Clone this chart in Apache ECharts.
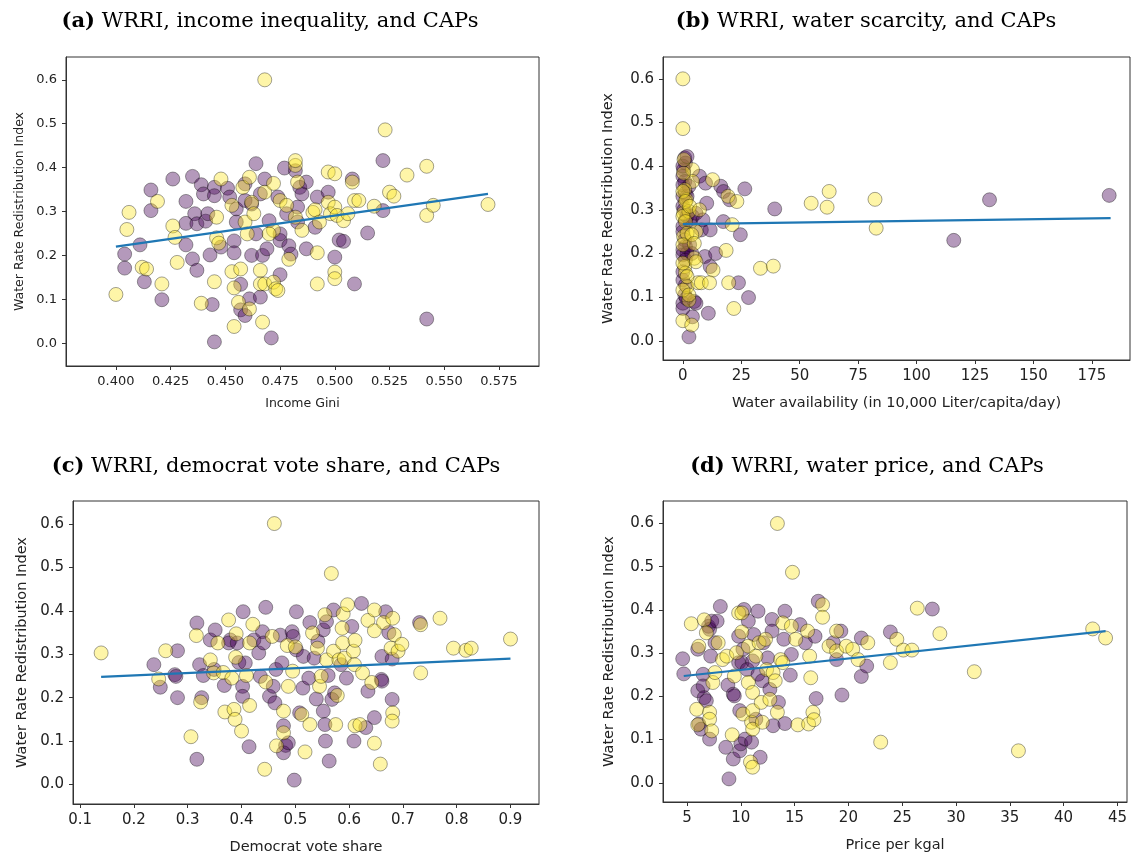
<!DOCTYPE html>
<html><head><meta charset="utf-8">
<script src="https://cdn.jsdelivr.net/npm/echarts@6/dist/echarts.min.js"></script>
<style>html,body{margin:0;padding:0;background:#fff}#c{width:1133px;height:859px}</style>
</head><body><div id="c"></div>
<script>
// ---------- tick labels ----------
var yTicks = [0.0, 0.1, 0.2, 0.3, 0.4, 0.5, 0.6];
var aXTicks = [0.400, 0.425, 0.450, 0.475, 0.500, 0.525, 0.550, 0.575];
var bXTicks = [0, 25, 50, 75, 100, 125, 150, 175];
var cXTicks = [0.1, 0.2, 0.3, 0.4, 0.5, 0.6, 0.7, 0.8, 0.9];
var dXTicks = [5, 10, 15, 20, 25, 30, 35, 40, 45];

// ---------- titles / axis names ----------
var titles = ['(a)| WRRI, income inequality, and CAPs', '(b)| WRRI, water scarcity, and CAPs',
              '(c)| WRRI, democrat vote share, and CAPs', '(d)| WRRI, water price, and CAPs'];
var xNames = ['Income Gini', 'Water availability (in 10,000 Liter/capita/day)', 'Democrat vote share', 'Price per kgal'];
var yName = 'Water Rate Redistribution Index';

// ---------- (a) income Gini ----------
var aPurple = [[0.404,0.203],[0.404,0.171],[0.411,0.224],[0.413,0.140],[0.416,0.349],[0.416,0.302],[0.421,0.099],
[0.426,0.374],[0.432,0.273],[0.432,0.323],[0.432,0.224],[0.435,0.380],[0.435,0.192],[0.437,0.166],[0.439,0.361],
[0.436,0.295],[0.437,0.272],[0.440,0.340],[0.441,0.278],[0.442,0.295],[0.443,0.201],[0.444,0.088],[0.445,0.355],
[0.445,0.336],[0.445,0.003],[0.448,0.219],[0.451,0.353],[0.452,0.333],[0.454,0.233],[0.454,0.206],[0.455,0.276],
[0.455,0.306],[0.457,0.134],[0.457,0.076],[0.459,0.063],[0.459,0.325],[0.461,0.101],[0.459,0.363],[0.462,0.317],
[0.462,0.200],[0.464,0.409],[0.464,0.249],[0.466,0.105],[0.466,0.340],[0.467,0.200],[0.468,0.374],[0.469,0.215],
[0.471,0.012],[0.470,0.279],[0.475,0.156],[0.474,0.333],[0.475,0.234],[0.475,0.249],[0.477,0.399],[0.478,0.295],
[0.479,0.222],[0.480,0.203],[0.482,0.393],[0.484,0.355],[0.485,0.340],[0.483,0.310],[0.483,0.276],[0.487,0.215],
[0.487,0.367],[0.492,0.333],[0.491,0.264],[0.497,0.344],[0.500,0.196],[0.502,0.235],[0.504,0.232],[0.508,0.374],
[0.509,0.135],[0.515,0.251],[0.522,0.302],[0.522,0.416],[0.542,0.055]];
var aYellow = [[0.400,0.111],[0.406,0.298],[0.405,0.259],[0.412,0.173],[0.414,0.169],[0.419,0.323],[0.421,0.135],
[0.426,0.267],[0.427,0.241],[0.428,0.184],[0.439,0.091],[0.445,0.140],[0.446,0.240],[0.446,0.287],[0.448,0.374],
[0.447,0.228],[0.453,0.163],[0.453,0.314],[0.454,0.126],[0.454,0.038],[0.457,0.169],[0.456,0.093],[0.458,0.355],
[0.461,0.078],[0.461,0.378],[0.459,0.276],[0.460,0.249],[0.462,0.321],[0.463,0.295],[0.466,0.166],[0.466,0.135],
[0.467,0.048],[0.468,0.600],[0.468,0.344],[0.468,0.135],[0.472,0.364],[0.472,0.139],[0.473,0.124],[0.474,0.120],
[0.472,0.257],[0.470,0.249],[0.475,0.325],[0.478,0.314],[0.479,0.191],[0.482,0.405],[0.482,0.416],[0.483,0.367],
[0.482,0.287],[0.485,0.257],[0.490,0.298],[0.492,0.206],[0.492,0.135],[0.491,0.304],[0.493,0.276],[0.497,0.390],
[0.500,0.386],[0.497,0.321],[0.498,0.295],[0.500,0.310],[0.500,0.162],[0.500,0.147],[0.501,0.291],[0.504,0.279],
[0.506,0.295],[0.508,0.367],[0.509,0.325],[0.511,0.325],[0.518,0.312],[0.523,0.486],[0.525,0.344],[0.527,0.335],
[0.533,0.383],[0.542,0.403],[0.542,0.291],[0.545,0.314],[0.570,0.316]];
var aFit = [[0.400,0.220],[0.570,0.340]];

// ---------- (b) water availability ----------
var bPurple = [[0.8,0.419],[1.1,0.407],[0.3,0.392],[0,0.377],[0.8,0.365],[0,0.331],[0,0.308],[1.1,0.277],[0,0.262],
[1.1,0.216],[0,0.197],[1.8,0.200],[0,0.139],[0.8,0.105],[0,0.086],[0,0.074],[2.6,0.009],[4.1,0.055],[4.9,0.090],
[5.6,0.086],[7.9,0.254],[7.1,0.377],[9.7,0.361],[10.2,0.315],[9.4,0.193],[11.7,0.170],[10.9,0.063],[11.7,0.254],
[14.0,0.200],[16.2,0.354],[17.4,0.342],[17.3,0.273],[20.0,0.323],[23.8,0.133],[24.6,0.243],[26.5,0.348],[28.1,0.099],
[39.3,0.302],[115.9,0.230],[131.2,0.323],[182.4,0.333],
[0,0.400],[0,0.357],[1.1,0.338],[0.5,0.300],[1.8,0.285],[0,0.250],[0.8,0.231],[0,0.208],[1.1,0.185],[0,0.158],
[1.1,0.128],[1.8,0.331],[2.6,0.354],[3.3,0.273],[2.9,0.220],[1.8,0.422],[4.1,0.285],[3.8,0.200],[5.6,0.292],
[8.6,0.277],[1.5,0.097]];
var bYellow = [[0,0.600],[0,0.486],[4.1,0.392],[4.1,0.365],[0.8,0.346],[1.5,0.323],[0.3,0.292],[2.6,0.296],[0.3,0.239],
[0.8,0.170],[1.1,0.155],[1.8,0.124],[2.6,0.093],[0,0.046],[3.8,0.036],[4.9,0.189],[5.6,0.181],[6.4,0.133],[7.9,0.133],
[5.6,0.250],[12.7,0.369],[12.9,0.162],[11.4,0.133],[18.5,0.207],[19.3,0.331],[21.1,0.266],[19.6,0.133],[21.8,0.074],
[23.1,0.319],[33.2,0.166],[38.7,0.171],[54.9,0.315],[61.7,0.306],[62.6,0.342],[82.2,0.324],[82.7,0.258],
[0.3,0.384],[0,0.342],[1.1,0.319],[0,0.285],[1.1,0.273],[1.8,0.246],[0,0.220],[0,0.178],[1.8,0.147],[0,0.116],
[2.9,0.308],[3.8,0.243],[0.5,0.415],[4.9,0.223],[7.1,0.300],[2.6,0.105]];
var bFit = [[0,0.267],[183,0.281]];

// ---------- (c) democrat vote share ----------
var cPurple = [[0.237,0.276],[0.249,0.224],[0.276,0.253],[0.278,0.249],[0.281,0.308],[0.281,0.200],[0.317,0.372],
[0.317,0.058],[0.322,0.276],[0.326,0.200],[0.329,0.251],[0.342,0.333],[0.351,0.356],[0.349,0.265],[0.368,0.228],
[0.379,0.333],[0.376,0.326],[0.392,0.326],[0.395,0.281],[0.403,0.398],[0.402,0.226],[0.402,0.203],[0.407,0.280],
[0.414,0.087],[0.423,0.333],[0.432,0.303],[0.435,0.249],[0.439,0.352],[0.441,0.326],[0.445,0.408],[0.452,0.203],
[0.459,0.226],[0.462,0.188],[0.464,0.265],[0.472,0.344],[0.475,0.280],[0.478,0.135],[0.482,0.090],[0.478,0.073],
[0.487,0.096],[0.494,0.352],[0.496,0.341],[0.502,0.398],[0.498,0.010],[0.502,0.310],[0.508,0.165],[0.514,0.222],
[0.515,0.295],[0.525,0.245],[0.527,0.373],[0.535,0.291],[0.539,0.197],[0.542,0.330],[0.552,0.356],[0.552,0.169],
[0.555,0.138],[0.556,0.100],[0.558,0.375],[0.561,0.251],[0.563,0.054],[0.571,0.402],[0.573,0.211],[0.568,0.196],
[0.585,0.276],[0.595,0.245],[0.605,0.364],[0.609,0.100],[0.623,0.417],[0.631,0.131],[0.635,0.215],[0.647,0.154],
[0.660,0.242],[0.661,0.238],[0.661,0.295],[0.668,0.398],[0.674,0.350],[0.680,0.289],[0.680,0.196],[0.731,0.373]];
var cYellow = [[0.139,0.303],[0.246,0.243],[0.259,0.308],[0.306,0.110],[0.316,0.343],[0.324,0.190],[0.342,0.287],
[0.356,0.326],[0.348,0.257],[0.369,0.167],[0.376,0.379],[0.366,0.258],[0.382,0.245],[0.386,0.173],[0.388,0.150],
[0.390,0.347],[0.389,0.293],[0.400,0.123],[0.409,0.251],[0.415,0.182],[0.415,0.326],[0.421,0.369],[0.443,0.035],
[0.445,0.236],[0.457,0.341],[0.465,0.089],[0.461,0.601],[0.478,0.169],[0.478,0.119],[0.487,0.226],[0.485,0.320],
[0.495,0.261],[0.500,0.317],[0.512,0.161],[0.518,0.075],[0.527,0.138],[0.532,0.349],[0.541,0.314],[0.545,0.226],
[0.548,0.249],[0.555,0.391],[0.558,0.287],[0.567,0.486],[0.571,0.307],[0.575,0.138],[0.578,0.205],[0.581,0.287],
[0.587,0.360],[0.589,0.393],[0.588,0.326],[0.591,0.291],[0.597,0.414],[0.608,0.307],[0.611,0.332],[0.610,0.276],
[0.611,0.135],[0.620,0.138],[0.625,0.257],[0.635,0.378],[0.642,0.235],[0.647,0.402],[0.647,0.354],[0.647,0.095],
[0.658,0.047],[0.664,0.373],[0.678,0.314],[0.681,0.165],[0.680,0.146],[0.681,0.383],[0.684,0.345],[0.691,0.307],
[0.698,0.323],[0.733,0.368],[0.733,0.257],[0.769,0.383],[0.794,0.314],[0.817,0.309],[0.827,0.314],[0.900,0.335]];
var cFit = [[0.139,0.248],[0.900,0.290]];

// ---------- (d) price per kgal ----------
var dPurple = [[4.6,0.287],[4.7,0.252],[6.0,0.213],[6.1,0.136],[6.3,0.124],[6.0,0.309],[6.5,0.251],[6.5,0.224],
[6.6,0.197],[6.8,0.190],[7.0,0.362],[7.1,0.355],[7.1,0.101],[7.3,0.374],[7.6,0.324],[7.8,0.374],[7.2,0.293],
[8.1,0.408],[8.6,0.082],[8.8,0.226],[8.9,0.009],[9.3,0.055],[9.3,0.205],[9.4,0.201],[9.8,0.278],[9.8,0.339],
[9.9,0.167],[9.9,0.074],[10.0,0.090],[10.1,0.278],[10.2,0.309],[10.3,0.401],[10.4,0.101],[10.6,0.262],[10.7,0.374],
[11.0,0.094],[11.1,0.282],[11.2,0.343],[11.4,0.147],[11.6,0.397],[11.6,0.251],[11.8,0.059],[12.0,0.236],[12.1,0.324],
[12.5,0.289],[12.7,0.216],[12.9,0.378],[12.9,0.351],[13.0,0.132],[13.5,0.186],[14.0,0.332],[14.1,0.397],[14.1,0.137],
[14.6,0.249],[14.7,0.297],[15.5,0.366],[16.0,0.324],[17.0,0.195],[16.9,0.339],[17.2,0.420],[18.6,0.324],[19.3,0.351],
[18.9,0.285],[19.4,0.203],[21.2,0.335],[21.2,0.246],[21.7,0.270],[23.9,0.349],[27.8,0.402]];
var dYellow = [[5.4,0.368],[5.9,0.170],[6.0,0.134],[6.1,0.316],[6.6,0.377],[6.8,0.347],[7.1,0.163],[7.1,0.147],
[7.3,0.120],[7.4,0.232],[7.6,0.255],[7.9,0.324],[8.3,0.285],[8.7,0.293],[9.2,0.111],[9.4,0.247],[9.6,0.301],
[9.8,0.393],[10.1,0.349],[10.1,0.393],[10.2,0.159],[10.7,0.232],[10.7,0.316],[10.9,0.048],[11.1,0.036],[11.0,0.140],
[11.1,0.124],[11.1,0.167],[11.1,0.209],[11.4,0.293],[11.7,0.324],[11.9,0.186],[12.0,0.140],[12.3,0.332],[12.4,0.262],
[12.7,0.193],[13.0,0.255],[13.2,0.236],[13.4,0.600],[13.4,0.163],[13.7,0.285],[13.9,0.370],[13.9,0.278],[14.7,0.362],
[14.8,0.487],[15.1,0.332],[15.3,0.134],[16.2,0.351],[16.3,0.136],[16.4,0.293],[16.5,0.243],[16.7,0.163],[16.8,0.146],
[17.6,0.412],[17.6,0.383],[18.2,0.316],[18.9,0.351],[18.9,0.305],[19.8,0.316],[20.4,0.309],[20.9,0.285],[21.8,0.324],
[23.0,0.094],[23.9,0.278],[24.5,0.332],[25.1,0.307],[25.9,0.307],[26.4,0.404],[28.5,0.345],[31.7,0.257],[35.8,0.074],
[42.7,0.356],[43.9,0.335]];
var dFit = [[4.7,0.247],[43.9,0.351]];

// ---------- build chart ----------
var chart = echarts.init(document.getElementById('c'), null, {renderer: 'canvas'});
var panels = [
  {grid:{left:66, top:57, width:473, height:309}, xmin:0.3772, xmax:0.5933, ymin:-0.052, ymax:0.652,
   xt:aXTicks, dec:3, fs:13, nfs:12.5, yGap:40, xGap:31, P:aPurple, Y:aYellow, F:aFit, tx:270, ty:11},
  {grid:{left:663, top:57, width:467, height:303}, xmin:-8.5, xmax:191.3, ymin:-0.044, ymax:0.650,
   xt:bXTicks, dec:0, fs:15, nfs:14.5, yGap:47, xGap:36, P:bPurple, Y:bYellow, F:bFit, tx:866, ty:11},
  {grid:{left:73, top:501, width:466, height:303}, xmin:0.0867, xmax:0.953, ymin:-0.045, ymax:0.653,
   xt:cXTicks, dec:1, fs:15, nfs:14.5, yGap:43, xGap:36, P:cPurple, Y:cYellow, F:cFit, tx:276, ty:456},
  {grid:{left:663, top:501, width:464, height:301}, xmin:2.77, xmax:45.89, ymin:-0.0445, ymax:0.652,
   xt:dXTicks, dec:0, fs:15, nfs:14.5, yGap:46, xGap:36, P:dPurple, Y:dYellow, F:dFit, tx:867, ty:456}
];
var AX = '#333', TXT = '#222';
var grids = [], xAxes = [], yAxes = [], series = [], titleArr = [];
panels.forEach(function (p, i) {
  grids.push(Object.assign({show:true, borderColor:AX, borderWidth:1, backgroundColor:'transparent'}, p.grid));
  xAxes.push({type:'value', gridIndex:i, min:p.xmin, max:p.xmax,
    name:xNames[i], nameLocation:'middle', nameGap:p.xGap,
    nameTextStyle:{fontFamily:'DejaVu Sans', fontSize:p.nfs, color:TXT},
    axisLine:{show:true, onZero:false, lineStyle:{color:AX}},
    axisTick:{show:true, length:4, inside:false, customValues:p.xt, lineStyle:{color:AX}},
    axisLabel:{customValues:p.xt, margin:9, fontFamily:'DejaVu Sans', fontSize:p.fs, color:TXT,
      formatter:(function(d){return function(v){return Number(v).toFixed(d);};})(p.dec)},
    splitLine:{show:false}});
  yAxes.push({type:'value', gridIndex:i, min:p.ymin, max:p.ymax,
    name:yName, nameLocation:'middle', nameGap:p.yGap, nameRotate:90,
    nameTextStyle:{fontFamily:'DejaVu Sans', fontSize:p.nfs, color:TXT},
    axisLine:{show:true, onZero:false, lineStyle:{color:AX}},
    axisTick:{show:true, length:4, inside:false, customValues:yTicks, lineStyle:{color:AX}},
    axisLabel:{customValues:yTicks, margin:9, fontFamily:'DejaVu Sans', fontSize:p.fs, color:TXT,
      formatter:function(v){return Number(v).toFixed(1);}},
    splitLine:{show:false}});
  series.push({type:'scatter', xAxisIndex:i, yAxisIndex:i, data:p.P, symbol:'circle', symbolSize:14,
    itemStyle:{color:'rgba(68,1,84,0.5)', borderColor:'rgba(0,0,0,0.45)', borderWidth:1}, silent:true});
  series.push({type:'scatter', xAxisIndex:i, yAxisIndex:i, data:p.Y, symbol:'circle', symbolSize:14,
    itemStyle:{color:'rgba(253,231,37,0.5)', borderColor:'rgba(0,0,0,0.45)', borderWidth:1}, silent:true});
  series.push({type:'line', xAxisIndex:i, yAxisIndex:i, data:p.F, showSymbol:false, symbol:'none',
    lineStyle:{color:'#1f77b4', width:2.2}, z:5, silent:true});
  var parts = titles[i].split('|');
  titleArr.push({text:'{b|' + parts[0] + '}{n|' + parts[1] + '}', left:p.tx, top:p.ty, textAlign:'center', padding:0,
    textStyle:{fontWeight:'normal', rich:{b:{fontFamily:'DejaVu Serif', fontWeight:'bold', fontSize:21, color:'#000'},
                     n:{fontFamily:'DejaVu Serif', fontWeight:'normal', fontSize:21, color:'#000'}}}});
});
chart.setOption({animation:false, backgroundColor:'#fff', title:titleArr, grid:grids, xAxis:xAxes, yAxis:yAxes, series:series});
</script></body></html>
